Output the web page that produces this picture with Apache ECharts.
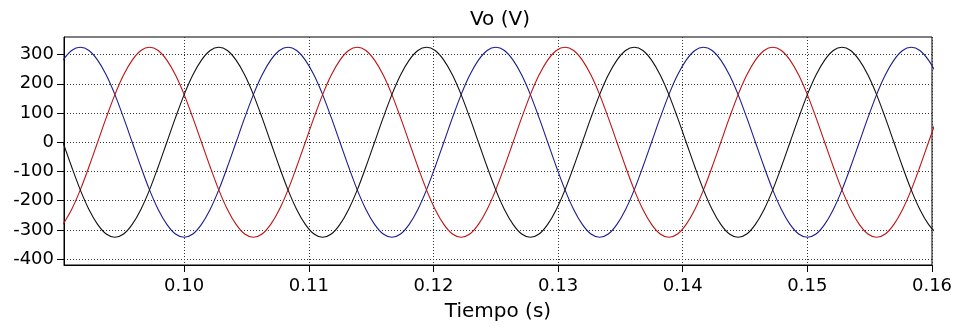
<!DOCTYPE html>
<html>
<head>
<meta charset="utf-8">
<script src="https://cdn.jsdelivr.net/npm/echarts@6/dist/echarts.min.js"></script>
<style>
html,body{margin:0;padding:0;background:#fff;}
#chart{width:963px;height:327px;}
</style>
</head>
<body>
<div id="chart"></div>
<script>
// Time samples (s)
const tiempo = [
0.0902778,0.0909722,0.0916667,0.0923611,0.0930556,0.09375,0.0944444,0.0951389,0.0958333,0.0965278,
0.0972222,0.0979167,0.0986111,0.0993056,0.1,0.1006944,0.1013889,0.1020833,0.1027778,0.1034722,
0.1041667,0.1048611,0.1055556,0.10625,0.1069444,0.1076389,0.1083333,0.1090278,0.1097222,0.1104167,
0.1111111,0.1118056,0.1125,0.1131944,0.1138889,0.1145833,0.1152778,0.1159722,0.1166667,0.1173611,
0.1180556,0.11875,0.1194444,0.1201389,0.1208333,0.1215278,0.1222222,0.1229167,0.1236111,0.1243056,
0.125,0.1256944,0.1263889,0.1270833,0.1277778,0.1284722,0.1291667,0.1298611,0.1305556,0.13125,
0.1319444,0.1326389,0.1333333,0.1340278,0.1347222,0.1354167,0.1361111,0.1368056,0.1375,0.1381944,
0.1388889,0.1395833,0.1402778,0.1409722,0.1416667,0.1423611,0.1430556,0.14375,0.1444444,0.1451389,
0.1458333,0.1465278,0.1472222,0.1479167,0.1486111,0.1493056,0.15,0.1506944,0.1513889,0.1520833,
0.1527778,0.1534722,0.1541667,0.1548611,0.1555556,0.15625,0.1569444,0.1576389,0.1583333,0.1590278,
0.1597222,0.1604167
];
// Phase voltages (V)
const vAzul = [
281,314,
325,314,281,230,163,84,0,-84,-163,-230,-281,-314,-325,-314,-281,-230,-163,-84,0,84,163,230,281,314,
325,314,281,230,163,84,0,-84,-163,-230,-281,-314,-325,-314,-281,-230,-163,-84,0,84,163,230,281,314,
325,314,281,230,163,84,0,-84,-163,-230,-281,-314,-325,-314,-281,-230,-163,-84,0,84,163,230,281,314,
325,314,281,230,163,84,0,-84,-163,-230,-281,-314,-325,-314,-281,-230,-163,-84,0,84,163,230,281,314,
325,314,281,230
];
const vRojo = [
-281,-230,-163,-84,0,84,163,230,281,314,
325,314,281,230,163,84,0,-84,-163,-230,-281,-314,-325,-314,-281,-230,-163,-84,0,84,163,230,281,314,
325,314,281,230,163,84,0,-84,-163,-230,-281,-314,-325,-314,-281,-230,-163,-84,0,84,163,230,281,314,
325,314,281,230,163,84,0,-84,-163,-230,-281,-314,-325,-314,-281,-230,-163,-84,0,84,163,230,281,314,
325,314,281,230,163,84,0,-84,-163,-230,-281,-314,-325,-314,-281,-230,-163,-84,0,84
];
const vNegro = [
0,-84,-163,-230,-281,-314,-325,-314,-281,-230,-163,-84,0,84,163,230,281,314,
325,314,281,230,163,84,0,-84,-163,-230,-281,-314,-325,-314,-281,-230,-163,-84,0,84,163,230,281,314,
325,314,281,230,163,84,0,-84,-163,-230,-281,-314,-325,-314,-281,-230,-163,-84,0,84,163,230,281,314,
325,314,281,230,163,84,0,-84,-163,-230,-281,-314,-325,-314,-281,-230,-163,-84,0,84,163,230,281,314,
325,314,281,230,163,84,0,-84,-163,-230,-281,-314
];
const xTicks = [0.10,0.11,0.12,0.13,0.14,0.15,0.16];
const yTicks = [-400,-300,-200,-100,0,100,200,300];

const FONT = 'DejaVu Sans';
const pair = (ys) => tiempo.map((t, i) => [t, ys[i]]);
const chart = echarts.init(document.getElementById('chart'), null, {renderer: 'canvas'});
const gridLine = {show: true, lineStyle: {color: '#333', width: 1, type: [1, 2]}};
chart.setOption({
  animation: false,
  backgroundColor: '#fff',
  title: {
    text: 'Vo (V)', left: 500, top: 10, textAlign: 'center', padding: 0,
    textStyle: {fontFamily: FONT, fontSize: 20, fontWeight: 'normal', color: '#000'}
  },
  grid: {left: 64, right: 31, top: 37, bottom: 62, show: true, borderColor: '#000', borderWidth: 1, backgroundColor: 'transparent'},
  xAxis: {
    type: 'value', min: 0.09036, max: 0.16,
    name: 'Tiempo (s)', nameLocation: 'middle', nameGap: 37,
    nameTextStyle: {fontFamily: FONT, fontSize: 20, color: '#000'},
    axisLine: {show: true, onZero: false, lineStyle: {color: '#000', width: 1}},
    axisTick: {show: true, inside: false, length: 7, customValues: xTicks, lineStyle: {color: '#000'}},
    axisLabel: {customValues: xTicks, margin: 12, fontFamily: FONT, fontSize: 18, color: '#000', formatter: v => v.toFixed(2)},
    splitLine: gridLine
  },
  yAxis: {
    type: 'value', min: -420, max: 360,
    axisLine: {show: true, lineStyle: {color: '#000', width: 1}},
    axisTick: {show: true, inside: false, length: 7, customValues: yTicks, lineStyle: {color: '#000'}},
    axisLabel: {customValues: yTicks, margin: 10, fontFamily: FONT, fontSize: 18, color: '#000'},
    splitLine: gridLine
  },
  series: [
    {type: 'line', data: pair(vAzul), showSymbol: false, smooth: 0.33, lineStyle: {color: '#1c1c90', width: 1.1}, itemStyle: {color: '#1c1c90'}, clip: true},
    {type: 'line', data: pair(vRojo), showSymbol: false, smooth: 0.33, lineStyle: {color: '#c01212', width: 1.1}, itemStyle: {color: '#c01212'}, clip: true},
    {type: 'line', data: pair(vNegro), showSymbol: false, smooth: 0.33, lineStyle: {color: '#111', width: 1.1}, itemStyle: {color: '#111'}, clip: true}
  ]
});
</script>
</body>
</html>
